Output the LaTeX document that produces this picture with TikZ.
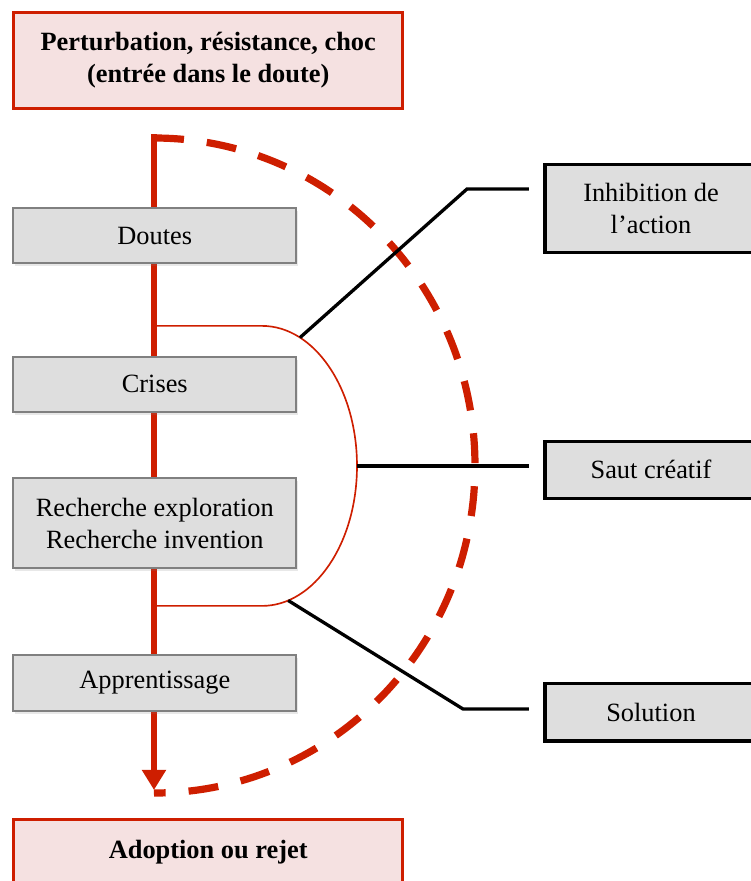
\documentclass[tikz,border=0pt]{standalone}
\usepackage{fontspec}
\setmainfont{Liberation Serif}
\usepackage{tikz}
\usetikzlibrary{arrows.meta,positioning,calc,backgrounds,shadows}
\usepackage{xcolor}
\definecolor{accred}{RGB}{206,30,0}
\definecolor{accpink}{RGB}{245,225,225}
\definecolor{stagefill}{RGB}{222,222,222}
\definecolor{stageline}{RGB}{128,128,128}

\begin{document}
\begin{tikzpicture}[
  font=\fontsize{25}{30.4}\selectfont,
  endbox/.style={draw=accred, fill=accpink, line width=0.1cm, minimum width=12.98cm, align=center, font=\fontsize{25}{30.4}\selectfont\bfseries},
  stage/.style={draw=stageline, fill=stagefill, line width=0.065cm, minimum width=9.43cm, align=center, drop shadow={shadow xshift=0.06cm, shadow yshift=-0.1cm, opacity=0.18}},
  effect/.style={draw=black, fill=stagefill, line width=0.11cm, minimum width=7.07cm, align=center},
  flow/.style={-{Triangle[length=0.67cm, width=0.77cm]}, line width=0.23cm, color=accred},
  loopback/.style={line width=0.24cm, color=accred, dash pattern=on 1cm off 0.767cm},
  bracket/.style={line width=0.055cm, color=accred},
  link/.style={line width=0.11cm, color=black},
]
\useasboundingbox (0,0) rectangle (25.033,-29.367);

% ─── Entry and exit boxes ───
\node[endbox, minimum height=3.2cm] (perturb) at (6.94, -2.02) {Perturbation, résistance, choc\\(entrée dans le doute)};
\node[endbox, minimum height=2.2cm, anchor=north] (adoption) at (6.94, -27.26) {Adoption ou rejet};

% ─── Stages along the main path ───
\node[stage, minimum height=1.85cm] (doutes) at (5.16, -7.85) {Doutes};
\node[stage, minimum height=1.85cm] (crises) at (5.16, -12.81) {Crises};
\node[stage, minimum height=3cm] (recherche) at (5.16, -17.44) {Recherche exploration\\Recherche invention};
\node[stage, minimum height=1.85cm] (apprent) at (5.16, -22.76) {Apprentissage};

% ─── Outcomes (right column) ───
\node[effect, minimum height=2.95cm] (inhib) at (21.7, -6.95) {Inhibition de\\l'action};
\node[effect, minimum height=1.91cm] (saut) at (21.7, -15.66) {Saut créatif};
\node[effect, minimum height=1.92cm] (solution) at (21.7, -23.74) {Solution};

% ─── Helper coordinates ───
\coordinate (flowtop) at (5.133, -4.483);
\coordinate (flowtip) at (5.133, -26.333);
\coordinate (looptop) at (5.133, -4.6);
\coordinate (dupper) at (5.133, -10.863);
\coordinate (dlower) at (5.133, -20.197);
\coordinate (dinhib) at (10.0, -11.253);
\coordinate (dsaut) at (11.9, -15.53);
\coordinate (dsol) at (9.606, -20.016);
\coordinate (kinhib) at (15.567, -6.3);
\coordinate (ksol) at (15.433, -23.633);

% ─── Main path, loop and bracket (behind the boxes) ───
\begin{scope}[on background layer]
\draw[flow] (flowtop) -- (flowtip);
\draw[bracket] (dupper) -- ++(3.6,0) arc[start angle=90, end angle=-90, x radius=3.167, y radius=4.667] -- (dlower);
\draw[loopback] (looptop) arc[start angle=90, end angle=-90, x radius=10.7, y radius=10.917];
\end{scope}

% ─── Links to outcomes ───
\draw[link] (dinhib) -- (kinhib) -- ([xshift=-0.48cm, yshift=0.65cm]inhib.west);
\draw[link] (dsaut) -- ([xshift=-0.48cm, yshift=0.13cm]saut.west);
\draw[link] (dsol) -- (ksol) -- ([xshift=-0.48cm, yshift=0.107cm]solution.west);

\end{tikzpicture}
\end{document}
